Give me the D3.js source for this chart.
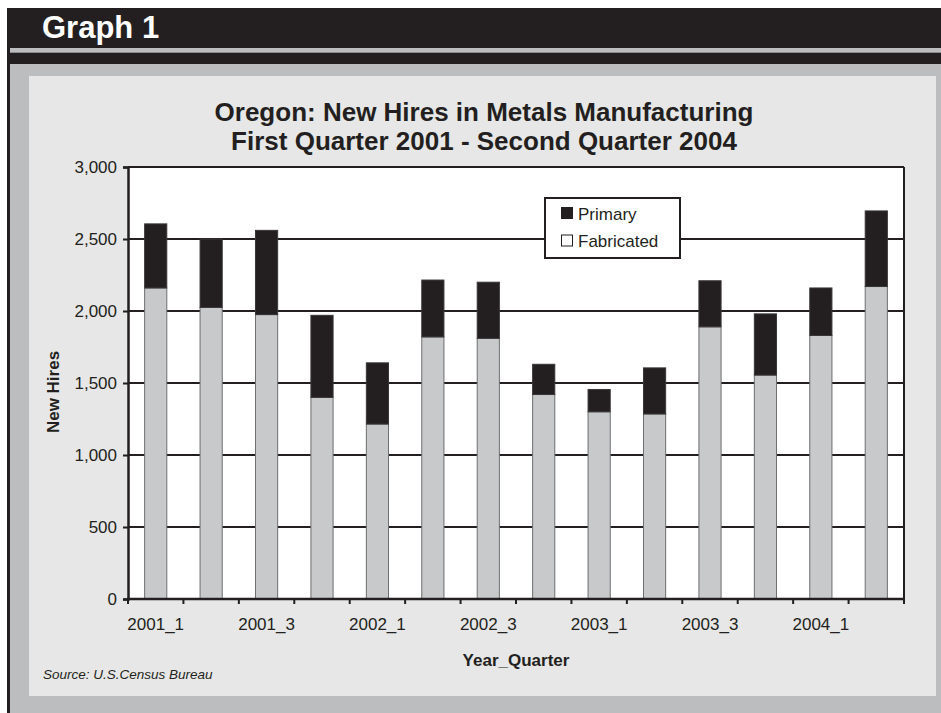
<!DOCTYPE html>
<html>
<head>
<meta charset="utf-8">
<script src="https://cdn.jsdelivr.net/npm/d3@7/dist/d3.min.js"></script>
<style>
  html, body { margin: 0; padding: 0; background: #ffffff; }
  svg { display: block; font-family: "Liberation Sans", Arial, Helvetica, sans-serif; }
</style>
</head>
<body>
<svg id="chart" width="941" height="713"></svg>
<script>
// New hires per quarter, split by metals sector
const quarters = ["2001_1","2001_2","2001_3","2001_4","2002_1","2002_2","2002_3","2002_4",
                  "2003_1","2003_2","2003_3","2003_4","2004_1","2004_2"];
const fabricated = [2160, 2025, 1975, 1400, 1215, 1820, 1810, 1420, 1300, 1285, 1890, 1555, 1830, 2170];
const primary    = [ 445,  475,  585,  570,  425,  395,  390,  210,  155,  320,  320,  425,  330,  525];
const yTicks = [0, 500, 1000, 1500, 2000, 2500, 3000];
const xLabelQuarters = ["2001_1","2001_3","2002_1","2002_3","2003_1","2003_3","2004_1"];
const seriesNames = ["Primary", "Fabricated"];

const ink = "#231f20", frameGray = "#bcbdbf", panelGray = "#e6e7e6", fabGray = "#c8c9ca";

const svg = d3.select("#chart");

// Page frame: dark header band, grey frame and light inner panel
svg.append("rect").attr("x", 7).attr("y", 8).attr("width", 934).attr("height", 705).attr("fill", ink);
svg.append("rect").attr("x", 10).attr("y", 48).attr("width", 931).attr("height", 5).attr("fill", frameGray);
svg.append("rect").attr("x", 10).attr("y", 52).attr("width", 931).attr("height", 1).attr("fill", "#8c8d8f");
svg.append("rect").attr("x", 10).attr("y", 64).attr("width", 931).attr("height", 649).attr("fill", frameGray);
svg.append("rect").attr("x", 29).attr("y", 76).attr("width", 907).attr("height", 620).attr("fill", panelGray);

svg.append("text").attr("x", 42).attr("y", 38)
  .attr("fill", "#ffffff").attr("font-size", 31).attr("font-weight", "bold")
  .text("Graph 1");

// Chart title
const title = svg.append("text").attr("text-anchor", "middle")
  .attr("font-size", 26).attr("font-weight", "bold").attr("fill", ink);
title.append("tspan").attr("x", 484).attr("y", 121).text("Oregon: New Hires in Metals Manufacturing");
title.append("tspan").attr("x", 484).attr("y", 150).text("First Quarter 2001 - Second Quarter 2004");

// Plot area
const plotLeft = 128, plotRight = 904, plotTop = 167, plotBottom = 599;

const x = d3.scaleBand().domain(quarters).range([plotLeft, plotRight]).paddingInner(0.6).paddingOuter(0.3);
const y = d3.scaleLinear().domain([0, 3000]).range([plotBottom, plotTop]);

svg.append("rect").attr("x", plotLeft).attr("y", plotTop)
  .attr("width", plotRight - plotLeft).attr("height", plotBottom - plotTop).attr("fill", "#ffffff");

// Horizontal gridlines
svg.append("g").selectAll("line").data(yTicks.filter(v => v > 0 && v < 3000)).join("line")
  .attr("x1", plotLeft).attr("x2", plotRight)
  .attr("y1", d => y(d)).attr("y2", d => y(d))
  .attr("stroke", ink).attr("stroke-width", 2);

// Stacked bars
const rows = quarters.map((q, i) => ({ q, fab: fabricated[i], prim: primary[i] }));

svg.append("g").selectAll("rect").data(rows).join("rect")
  .attr("x", d => x(d.q)).attr("width", x.bandwidth())
  .attr("y", d => y(d.fab)).attr("height", d => y(0) - y(d.fab))
  .attr("fill", fabGray).attr("stroke", "#6d6e70").attr("stroke-width", 1);

svg.append("g").selectAll("rect").data(rows).join("rect")
  .attr("x", d => x(d.q)).attr("width", x.bandwidth())
  .attr("y", d => y(d.fab + d.prim)).attr("height", d => y(d.fab) - y(d.fab + d.prim))
  .attr("fill", ink).attr("stroke", "#3a3637").attr("stroke-width", 1);

// Plot border (top and right)
svg.append("line").attr("x1", plotLeft).attr("x2", plotRight).attr("y1", plotTop).attr("y2", plotTop)
  .attr("stroke", ink).attr("stroke-width", 2);
svg.append("line").attr("x1", plotRight).attr("x2", plotRight).attr("y1", plotTop).attr("y2", plotBottom)
  .attr("stroke", ink).attr("stroke-width", 2);

// Y axis
const yAxis = svg.append("g").attr("transform", `translate(${plotLeft},0)`)
  .call(d3.axisLeft(y).tickValues(yTicks).tickFormat(d3.format(",")).tickSize(5).tickPadding(6));
yAxis.select(".domain").attr("stroke", ink).attr("stroke-width", 2.5);
yAxis.selectAll(".tick line").attr("stroke", ink).attr("stroke-width", 2);
yAxis.selectAll(".tick text").attr("font-size", 17).attr("fill", ink)
  .attr("font-family", "'Liberation Sans', Arial, sans-serif");

// X axis: ticks on category boundaries, labels on every other quarter
const step = x.step();
const boundaries = d3.range(quarters.length + 1).map(i => plotLeft + i * step);
svg.append("g").selectAll("line").data(boundaries).join("line")
  .attr("x1", d => d).attr("x2", d => d).attr("y1", plotBottom).attr("y2", plotBottom + 5)
  .attr("stroke", ink).attr("stroke-width", 2);
svg.append("line").attr("x1", plotLeft - 1).attr("x2", plotRight + 1).attr("y1", plotBottom).attr("y2", plotBottom)
  .attr("stroke", ink).attr("stroke-width", 2.5);

svg.append("g").selectAll("text").data(xLabelQuarters).join("text")
  .attr("x", d => x(d) + x.bandwidth() / 2).attr("y", 630)
  .attr("text-anchor", "middle").attr("font-size", 17).attr("fill", ink)
  .text(d => d);

// Axis titles
svg.append("text").attr("transform", "translate(59,392) rotate(-90)")
  .attr("text-anchor", "middle").attr("font-size", 17).attr("font-weight", "bold").attr("fill", ink)
  .text("New Hires");
svg.append("text").attr("x", (plotLeft + plotRight) / 2).attr("y", 666)
  .attr("text-anchor", "middle").attr("font-size", 17).attr("font-weight", "bold").attr("fill", ink)
  .text("Year_Quarter");

// Source note
svg.append("text").attr("x", 43).attr("y", 679)
  .attr("font-size", 13.5).attr("font-style", "italic").attr("fill", ink)
  .text("Source: U.S.Census Bureau");

// Legend
const legend = svg.append("g");
legend.append("rect").attr("x", 545).attr("y", 198).attr("width", 135).attr("height", 60)
  .attr("fill", "#ffffff").attr("stroke", ink).attr("stroke-width", 2);
const swatchFill = ["#231f20", "#ffffff"];
const items = legend.selectAll("g.item").data(seriesNames).join("g").attr("class", "item")
  .attr("transform", (d, i) => `translate(0,${i * 27.5})`);
items.append("rect").attr("x", 561.5).attr("y", 207.5).attr("width", 11).attr("height", 11)
  .attr("fill", (d, i) => swatchFill[i]).attr("stroke", ink).attr("stroke-width", 1);
items.append("text").attr("x", 578).attr("y", 219.5)
  .attr("font-size", 17).attr("fill", ink).text(d => d);
</script>
</body>
</html>
